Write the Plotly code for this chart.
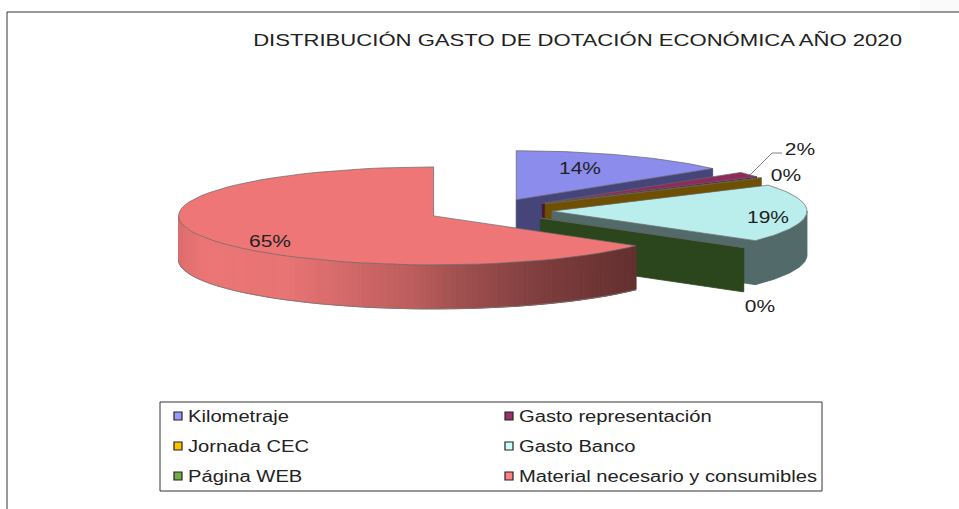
import math
import plotly.graph_objects as go

TITLE = "DISTRIBUCIÓN GASTO DE DOTACIÓN ECONÓMICA AÑO 2020"
categories = ["Kilometraje", "Gasto representación", "Jornada CEC", "Gasto Banco", "Página WEB", "Material necesario y consumibles"]
values = [14.0, 1.9, 0.2, 19.2, 0.1, 64.6]
explode = [0.245, 0.256, 0.258, 0.245, 0.25, 0.245]
top_colors = ["#8C8CEC", "#8E2A5C", "#8A6400", "#BAEEEC", "#3E6A28", "#EE7676"]
side_colors = ["#45457A", "#4A1630", "#6E5000", "#536A6A", "#2B451D", "#EE7676"]
legend_colors = ["#9999FF", "#993366", "#FFC000", "#CCFFFF", "#70AD47", "#FF8080"]
label_x = [580, 800, 786, 768, 760, 270]
label_y = [170, 151, 177, 219, 308, 243]

CX, CY, RX, RY, DEPTH = 489.6, 210.6, 255, 49, 44
FONT = "Liberation Sans"
TEXT = "#222222"

fig = go.Figure()


def poly(xs, ys, fill, line=None, width=0.8):
    fig.add_trace(go.Scatter(x=xs, y=ys, mode="lines", fill="toself", fillcolor=fill,
                             line=dict(color=line or fill, width=width),
                             hoverinfo="skip", showlegend=False))


def pt(cx, cy, deg):
    a = math.radians(deg)
    return cx + RX * math.sin(a), cy - RY * math.cos(a)


def arc(cx, cy, a0, a1, n=60):
    pts = [pt(cx, cy, a0 + (a1 - a0) * i / n) for i in range(n + 1)]
    return [p[0] for p in pts], [p[1] for p in pts]


def shade(x):
    stops = [(179, (222, 110, 110)), (205, (236, 118, 118)), (290, (232, 116, 116)),
             (350, (210, 104, 104)), (410, (190, 94, 94)), (460, (160, 80, 80)),
             (540, (128, 62, 62)), (635, (100, 48, 48))]
    for (x0, c0), (x1, c1) in zip(stops, stops[1:]):
        if x <= x1:
            t = max(0, (x - x0) / (x1 - x0))
            return "rgb(%d,%d,%d)" % tuple(c0[i] + (c1[i] - c0[i]) * t for i in range(3))
    return "rgb(100,48,48)"


start = 0.0
for i, v in enumerate(values):
    sweep = v * 3.6
    end = start + sweep
    mid = math.radians(start + sweep / 2)
    cx = CX + explode[i] * RX * math.sin(mid)
    cy = CY - explode[i] * RY * math.cos(mid)
    # radial face at the closing edge
    if end < 180:
        ex, ey = pt(cx, cy, end)
        poly([cx, ex, ex, cx, cx], [cy, ey, ey + DEPTH, cy + DEPTH, cy], side_colors[i])
    # outer wall
    a0, a1 = max(start, 90), min(end, 270)
    if a1 > a0:
        if i == len(values) - 1:
            n = 120
            for k in range(n):
                s0 = a0 + (a1 - a0) * k / n
                s1 = a0 + (a1 - a0) * (k + 1) / n
                xs, ys = arc(cx, cy, s0, s1, 2)
                poly(xs + xs[::-1] + [xs[0]], ys + [y + DEPTH for y in ys[::-1]] + [ys[0]],
                     shade((xs[0] + xs[-1]) / 2), width=1)
            xs, ys = arc(cx, cy, a0, a1)
            fig.add_trace(go.Scatter(x=xs, y=[y + DEPTH for y in ys], mode="lines",
                                     line=dict(color="#777777", width=0.8),
                                     hoverinfo="skip", showlegend=False))
        else:
            xs, ys = arc(cx, cy, a0, a1)
            poly(xs + xs[::-1] + [xs[0]], ys + [y + DEPTH for y in ys[::-1]] + [ys[0]], side_colors[i])
    # top surface
    xs, ys = arc(cx, cy, start, end)
    poly([cx] + xs + [cx], [cy] + ys + [cy], top_colors[i], line="#666666", width=0.7)
    start = end

# percentage labels
labels = ["%d%%" % round(v) for v in values]
fig.add_trace(go.Scatter(x=label_x, y=label_y, mode="text", text=labels,
                         textfont=dict(family=FONT, size=16, color=TEXT),
                         textposition="middle center", hoverinfo="skip", showlegend=False))
# leader line of the 2% label
fig.add_trace(go.Scatter(x=[782, 772, 750], y=[153, 153, 175], mode="lines",
                         line=dict(color="#666666", width=0.8), hoverinfo="skip", showlegend=False))

# legend
leg_x = [178, 509, 178, 509, 178, 509]
leg_y = [416, 416, 446, 446, 476, 476]
fig.add_trace(go.Scatter(x=leg_x, y=leg_y, mode="markers",
                         marker=dict(symbol="square", size=8, color=legend_colors, line=dict(color="#222222", width=1.2)),
                         hoverinfo="skip", showlegend=False))
fig.add_trace(go.Scatter(x=[x + 10 for x in leg_x], y=[y + 1.5 for y in leg_y], mode="text", text=categories,
                         textposition="middle right",
                         textfont=dict(family=FONT, size=16, color=TEXT),
                         hoverinfo="skip", showlegend=False))

fig.update_layout(
    width=959, height=509, margin=dict(l=0, r=0, t=0, b=0),
    paper_bgcolor="white", plot_bgcolor="white", showlegend=False,
    xaxis=dict(range=[0, 959], visible=False, fixedrange=True),
    yaxis=dict(range=[509, 0], visible=False, fixedrange=True),
    shapes=[
        dict(type="rect", x0=920, y0=0, x1=959, y1=12, fillcolor="#FAFAFA", line=dict(width=0), layer="below"),
        dict(type="rect", x0=160, y0=402, x1=822, y1=491, line=dict(color="#333333", width=1)),
        dict(type="line", x0=7, y0=509, x1=7, y1=12, line=dict(color="#333333", width=1)),
        dict(type="line", x0=7, y0=12, x1=959, y1=12, line=dict(color="#333333", width=1)),
    ],
    annotations=[dict(x=577.5, y=40, xref="x", yref="y", text=TITLE, showarrow=False,
                      font=dict(family=FONT, size=17, color=TEXT))],
)
POST = """
document.body.style.margin = '0';
document.documentElement.style.overflow = 'hidden';
function widen() {
  document.querySelectorAll('svg text').forEach(function (t) {
    if (t.dataset.w || !t.textContent) return;
    t.dataset.w = '1';
    var s = t.textContent.length > 40 ? 1.30 : (t.textContent.length < 4 ? 1.31 : 1.26);
    t.setAttribute('textLength', t.getComputedTextLength() * s);
    t.setAttribute('lengthAdjust', 'spacingAndGlyphs');
  });
}
widen();
setTimeout(widen, 50);
"""
fig.write_html("out.html", post_script=POST, config=dict(displayModeBar=False))
